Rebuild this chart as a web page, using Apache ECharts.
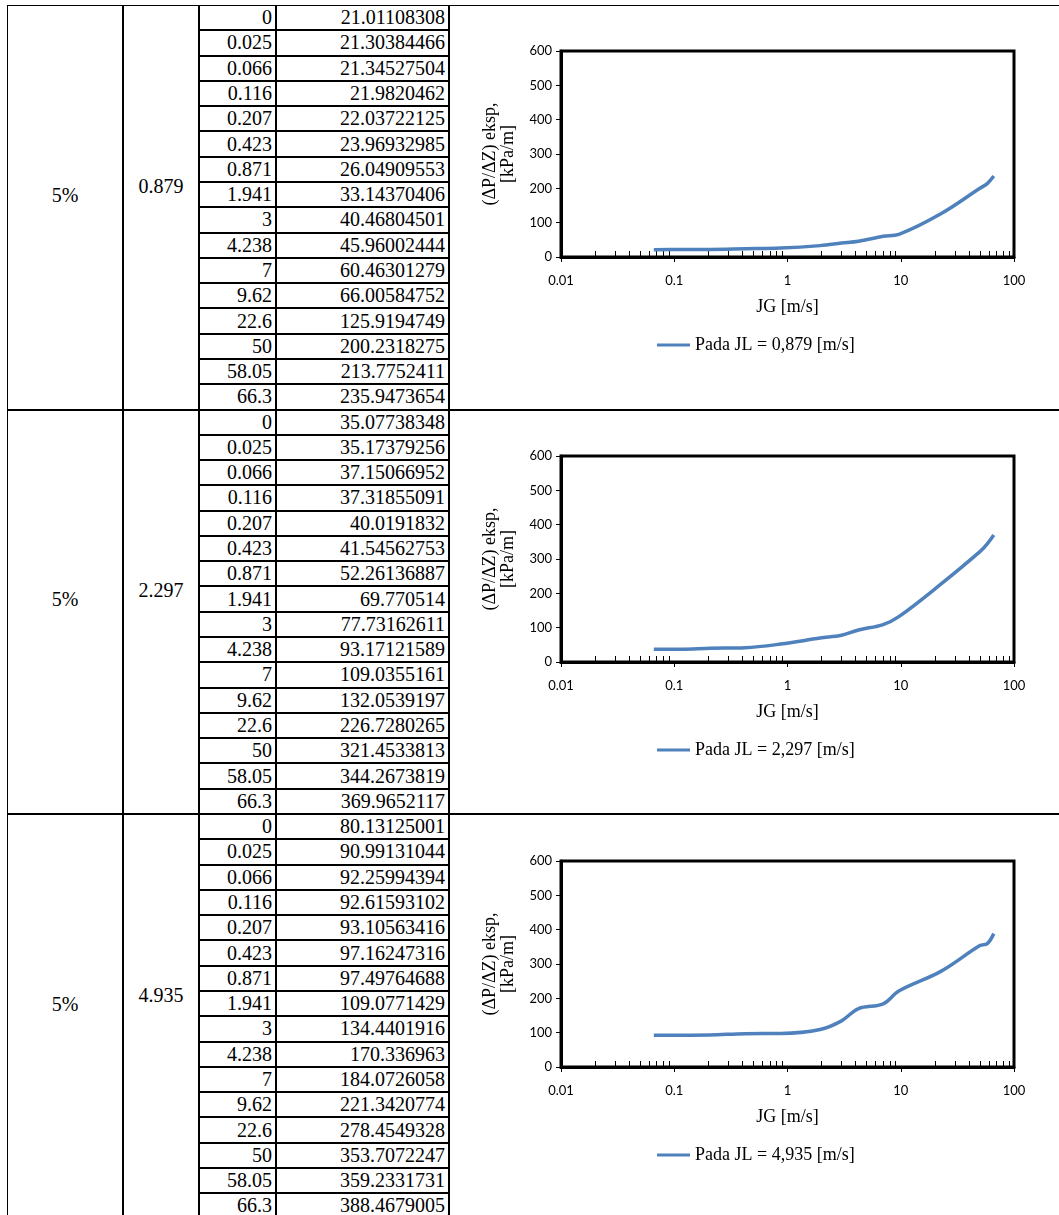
<!DOCTYPE html>
<html>
<head>
<meta charset="utf-8">
<script src="https://cdn.jsdelivr.net/npm/echarts@6/dist/echarts.min.js"></script>
<style>
	html, body { margin: 0; padding: 0; background: #fff; }
	#page { position: relative; width: 1059px; height: 1215px; overflow: hidden; font-family: "Liberation Serif", "Times New Roman", serif; color: #000; }
	.cell { position: absolute; font-size: 20px; line-height: 25px; white-space: nowrap; }
	.ln { position: absolute; background: #000; }
	#chart { position: absolute; left: 0; top: 0; width: 1059px; height: 1215px; }
</style>
</head>
<body>
<div id="page"><div id="table"></div><div id="chart"></div></div>
<script>
	// data tabel
	var fraksi = ['5%', '5%', '5%']
	var jl = ['0.879', '2.297', '4.935']
	var legendNames = ['Pada JL = 0,879 [m/s]', 'Pada JL = 2,297 [m/s]', 'Pada JL = 4,935 [m/s]']
	var jg = [0, 0.025, 0.066, 0.116, 0.207, 0.423, 0.871, 1.941, 3, 4.238, 7, 9.62, 22.6, 50, 58.05, 66.3]
	var dp1 = [21.01108308, 21.30384466, 21.34527504, 21.9820462, 22.03722125, 23.96932985, 26.04909553, 33.14370406, 40.46804501, 45.96002444, 60.46301279, 66.00584752, 125.9194749, 200.2318275, 213.7752411, 235.9473654]
	var dp2 = [35.07738348, 35.17379256, 37.15066952, 37.31855091, 40.0191832, 41.54562753, 52.26136887, 69.770514, 77.73162611, 93.17121589, 109.0355161, 132.0539197, 226.7280265, 321.4533813, 344.2673819, 369.9652117]
	var dp3 = [80.13125001, 90.99131044, 92.25994394, 92.61593102, 93.10563416, 97.16247316, 97.49764688, 109.0771429, 134.4401916, 170.336963, 184.0726058, 221.3420774, 278.4549328, 353.7072247, 359.2331731, 388.4679005]
	var dpAll = [dp1, dp2, dp3]
	// sumbu
	var yTicks = [0, 100, 200, 300, 400, 500, 600]
	var xMinorTicks = [0.02, 0.03, 0.04, 0.05, 0.06, 0.07, 0.08, 0.09,
		0.2, 0.3, 0.4, 0.5, 0.6, 0.7, 0.8, 0.9,
		2, 3, 4, 5, 6, 7, 8, 9,
		20, 30, 40, 50, 60, 70, 80, 90]

	// layout tabel
	var secH = 404.5, top0 = 5, rowH = secH / 16
	var colX = [7, 123, 199, 276, 449]
	var tbl = document.getElementById('table')
	function line (x, y, w, h) {
		var d = document.createElement('div')
		d.className = 'ln'
		d.style.left = x + 'px'; d.style.top = y + 'px'
		d.style.width = w + 'px'; d.style.height = h + 'px'
		tbl.appendChild(d)
	}
	function text (str, x, y, w, align) {
		var d = document.createElement('div')
		d.className = 'cell'
		d.textContent = str
		d.style.left = x + 'px'; d.style.top = (y - 12.5) + 'px'
		d.style.width = w + 'px'; d.style.textAlign = align
		tbl.appendChild(d)
	}
	line(colX[0], top0, 1059 - colX[0], 1)
	line(colX[0], top0, 1, 1215)
	for (var c = 1; c < colX.length; c++) line(colX[c] - 1, top0, 2, 1215)
	for (var s = 0; s < 3; s++) {
		var sy = top0 + s * secH
		if (s > 0) line(colX[0], Math.round(sy) - 1, 1059 - colX[0], 2)
		for (var r = 1; r < 16; r++) {
			line(colX[2], Math.round(sy + r * rowH) - 1, colX[4] - colX[2], 2)
		}
		text(fraksi[s], colX[0], sy + 190, colX[1] - colX[0], 'center')
		text(jl[s], colX[1], sy + 181, colX[2] - colX[1], 'center')
		for (var r = 0; r < 16; r++) {
			var cy = sy + r * rowH + rowH / 2
			text(String(jg[r]), colX[2], cy, colX[3] - colX[2] - 4, 'right')
			text(String(dpAll[s][r]), colX[3], cy, colX[4] - colX[3] - 4, 'right')
		}
	}

	// grafik
	var gridTop = [51, 456, 861]
	var chart = echarts.init(document.getElementById('chart'), null, { renderer: 'canvas' })
	var option = {
		animation: false,
		grid: [], xAxis: [], yAxis: [], series: [], legend: []
	}
	var sansFont = 'Lato'
	var serifFont = 'Liberation Serif'
	for (var s = 0; s < 3; s++) {
		option.grid.push({ left: 561, top: gridTop[s], width: 453, height: 206, show: true, borderColor: '#000', borderWidth: 3, backgroundColor: 'transparent' })
		option.grid.push({ left: 561, top: gridTop[s], width: 453, height: 206 })
		option.xAxis.push({
			type: 'log', logBase: 10, min: 0.01, max: 100, gridIndex: 2 * s,
			name: 'JG [m/s]', nameLocation: 'middle', nameGap: 41,
			nameTextStyle: { fontFamily: serifFont, fontSize: 18, color: '#000' },
			axisLine: { show: true, lineStyle: { color: '#000', width: 3 } },
			axisTick: { show: true, inside: false, length: 5, lineStyle: { color: '#000', width: 1 } },
			axisLabel: { color: '#000', fontFamily: sansFont, fontSize: 13, margin: 17,
				formatter: function (v) { return String(+v.toPrecision(6)) } },
			splitLine: { show: false }, minorTick: { show: false }
		})
		option.xAxis.push({
			type: 'log', logBase: 10, min: 0.01, max: 100, gridIndex: 2 * s + 1,
			axisLine: { show: false }, axisLabel: { show: false }, splitLine: { show: false },
			axisTick: { show: true, inside: true, length: 6, customValues: xMinorTicks, lineStyle: { color: '#000', width: 1 } }
		})
		option.yAxis.push({
			type: 'value', min: 0, max: 600, interval: 100, gridIndex: 2 * s,
			name: '(ΔP/ΔZ) eksp,\n[kPa/m]', nameLocation: 'middle', nameGap: 44, nameRotate: 90,
			nameTextStyle: { fontFamily: serifFont, fontSize: 18, color: '#000', lineHeight: 18 },
			axisLine: { show: true, lineStyle: { color: '#000', width: 3 } },
			axisTick: { show: true, inside: false, length: 5, lineStyle: { color: '#000', width: 1 } },
			axisLabel: { color: '#000', fontFamily: sansFont, fontSize: 13, margin: 9,
				customValues: yTicks },
			splitLine: { show: false }
		})
		option.yAxis.push({ type: 'value', min: 0, max: 600, gridIndex: 2 * s + 1, show: false })
		var pts = []
		for (var i = 2; i < jg.length; i++) pts.push([jg[i], dpAll[s][i]])
		option.series.push({
			name: legendNames[s], type: 'line', xAxisIndex: 2 * s, yAxisIndex: 2 * s,
			data: pts, smooth: 0.35, symbol: 'none', showSymbol: false,
			lineStyle: { color: '#4F81BD', width: 3.5 }, itemStyle: { color: '#4F81BD' }
		})
		option.legend.push({
			data: [{ name: legendNames[s], icon: 'rect' }], left: 657, top: gridTop[s] + 285, padding: 0,
			itemWidth: 33, itemHeight: 3, itemGap: 0,
			textStyle: { fontFamily: serifFont, fontSize: 18, color: '#000' }
		})
	}
	chart.setOption(option)
</script>
</body>
</html>
